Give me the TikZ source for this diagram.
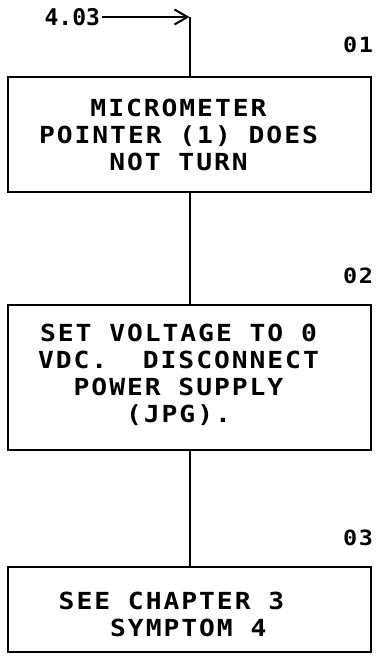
\documentclass[tikz,border=0pt]{standalone}
\usepackage{fontspec}
\usetikzlibrary{arrows.meta, positioning}
\newfontfamily\plotfont{DejaVu Sans Mono}[FakeStretch=1.12, LetterSpace=8.3]
\newfontfamily\plotnarrow{DejaVu Sans Mono}

\begin{document}
\begin{tikzpicture}[x=1pt, y=1pt, line width=2pt, node distance=113pt,
    stepbox/.style={draw, line width=2.2pt, minimum width=363pt, inner sep=0pt},
    steptext/.style={align=center, inner sep=0pt, font=\plotfont\bfseries\fontsize{23.5}{27}\selectfont},
    stepnum/.style={anchor=south east, inner sep=0pt, font=\plotfont\bfseries\fontsize{21}{24}\selectfont}]

  \useasboundingbox (0,0) rectangle (381,-656);

  % boxes
  \node[stepbox, minimum height=115pt] (box1) at (189.5,-134.5) {};
  \node[stepbox, minimum height=145pt, below=110.7pt of box1] (box2) {};
  \node[stepbox, minimum height=85pt, below=114.8pt of box2] (box3) {};

  \node[steptext] (txt1) at ([xshift=-11pt,yshift=0pt]box1.center) {MICROMETER\\POINTER (1) DOES\\NOT TURN};
  \node[steptext] (txt2) at ([xshift=-11pt,yshift=3pt]box2.center) {SET VOLTAGE TO 0\\VDC.\ \ DISCONNECT\\POWER SUPPLY\\(JPG).};
  \node[steptext, align=left] (txt3) at ([xshift=-18pt,yshift=-5pt]box3.center) {SEE CHAPTER 3\\\phantom{SEE}SYMPTOM 4};

  % step numbers
  \node[stepnum] (n01) at ([xshift=2pt,yshift=22pt]box1.north east) {01};
  \node[stepnum] (n02) at ([xshift=2pt,yshift=19pt]box2.north east) {02};
  \node[stepnum] (n03) at ([xshift=2pt,yshift=19pt]box3.north east) {03};

  % entry
  \node[anchor=east, inner sep=1pt, font=\plotnarrow\bfseries\fontsize{23}{27}\selectfont] (entry) at (102,-17) {4.03};
  \coordinate (corner) at (box1.north |- entry.east);

  \draw[-{Straight Barb[length=13pt, width=15pt]}] (entry.east) -- (corner);
  \draw (corner) -- (box1.north);
  \draw (box1.south) -- (box2.north);
  \draw (box2.south) -- (box3.north);
\end{tikzpicture}
\end{document}
